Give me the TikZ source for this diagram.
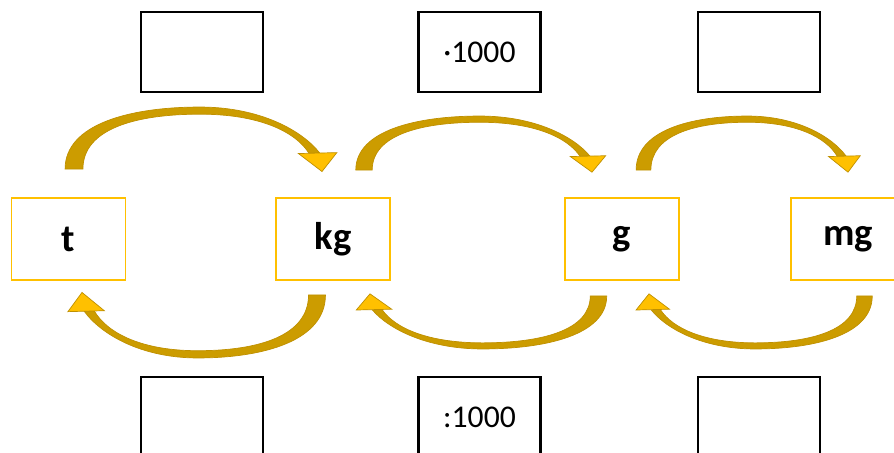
\documentclass[tikz,border=0pt]{standalone}
\usepackage{fontspec}
\setmainfont{Carlito}
\usetikzlibrary{calc}

\definecolor{goldL}{HTML}{FFC000}
\definecolor{goldD}{HTML}{CC9C00}
\definecolor{goldE}{HTML}{BF9000}

\tikzset{
  unitbox/.style={draw=goldL, line width=1.1pt, minimum width=2.28cm, minimum height=1.64cm, font=\bfseries\fontsize{22}{24}\selectfont},
  opbox/.style={draw=black, line width=1.6pt, minimum width=2.44cm, minimum height=1.6cm, font=\fontsize{18}{20}\selectfont},
  goldarc/.pic={
    \filldraw[fill=goldD, draw=goldE, line width=0.4pt] (-0.036,0) .. controls (-0.036,0.726) and (0.226,1) .. (0.508,1) .. controls (0.75,1) and (0.92,0.62) .. (0.99,0.262) -- (0.948,0.252) .. controls (0.89,0.62) and (0.74,0.885) .. (0.508,0.885) .. controls (0.246,0.885) and (0.036,0.645) .. (0.036,0) -- cycle;
    \filldraw[fill=goldL, draw=goldE, line width=0.4pt] (0.905,0.25) -- (1.06,0.265) -- (1.0,-0.04) -- cycle;
  }
}

\begin{document}
\begin{tikzpicture}[x=0.02cm, y=-0.02cm]
\useasboundingbox (0,0) rectangle (894,453);
\clip (0,0) rectangle (894,453);

% units
\node[unitbox] (t) at (68.5,239) {t};
\node[unitbox] (kg) at (333,239) {kg};
\node[unitbox] (g) at (622,239) {g};
\node[unitbox] (mg) at (848,239) {mg};

% operations
\node[opbox] (up1) at (202,52) {};
\node[opbox] (up2) at (479.5,52) {·1000};
\node[opbox] (up3) at (759,52) {};
\node[opbox] (dn1) at (202,417) {};
\node[opbox] (dn2) at (479.5,417) {:1000};
\node[opbox] (dn3) at (759,417) {};

% arrows over
\pic[xscale=248, yscale=-62] at ($(t.north)+(5.5,-28)$) {goldarc};
\pic[xscale=228, yscale=-54] at ($(kg.north)+(31,-27)$) {goldarc};
\pic[xscale=204.5, yscale=-54] at ($(g.north)+(21.5,-27)$) {goldarc};
% arrows under
\pic[xscale=-235, yscale=63] at ($(kg.south)+(-16,14)$) {goldarc};
\pic[xscale=-228.5, yscale=53] at ($(g.south)+(-23.5,15)$) {goldarc};
\pic[xscale=-215.5, yscale=53] at ($(mg.south)+(16.5,15)$) {goldarc};

\end{tikzpicture}
\end{document}
